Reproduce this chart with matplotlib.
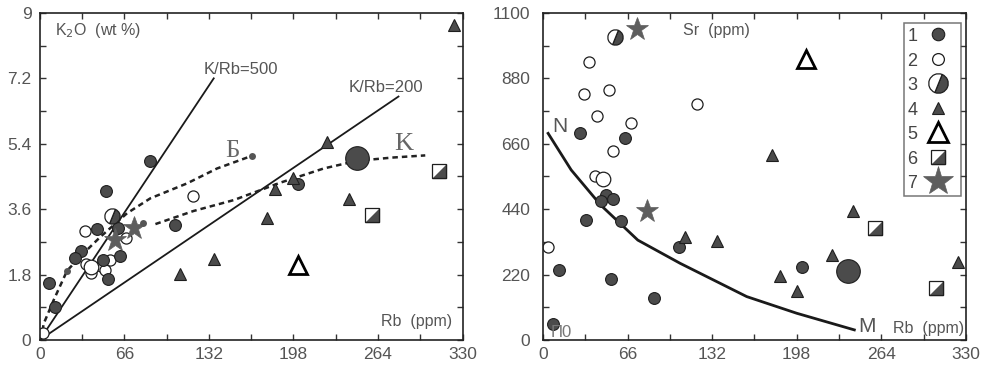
import matplotlib
matplotlib.use("Agg")
import matplotlib.pyplot as plt
from matplotlib.markers import MarkerStyle
from matplotlib.transforms import Affine2D
from matplotlib.lines import Line2D

plt.rcParams['font.family'] = ['Liberation Sans', 'DejaVu Sans']

# ---- left panel: Rb (ppm) vs K2O (wt %) ----
k1_rb = [86.4, 51.8, 44.8, 61.1, 32.5, 27.9, 63.0, 49.4, 53.3, 7.6, 12.2, 105.4, 201.6]
k1_k2o = [4.93, 4.10, 3.05, 3.07, 2.45, 2.25, 2.31, 2.20, 1.67, 1.56, 0.90, 3.16, 4.28]
k2_rb = [35.1, 67.4, 36.0, 48.0, 55.2, 40.0, 51.3, 2.4, 119.7]
k2_k2o = [3.01, 2.82, 2.10, 2.05, 2.20, 1.85, 1.93, 0.20, 3.96]
k2big_rb = [40.0]
k2big_k2o = [2.02]
k3_rb = [56.5]
k3_k2o = [3.41]
k4_rb = [109.8, 135.8, 177.4, 183.9, 197.7, 224.2, 241.0, 323.0]
k4_k2o = [1.82, 2.22, 3.35, 4.15, 4.45, 5.45, 3.88, 8.67]
k5_rb = [201.6]
k5_k2o = [2.06]
k6_rb = [259.3, 312.0]
k6_k2o = [3.44, 4.65]
k7_rb = [59.0, 73.3]
k7_k2o = [2.75, 3.07]
kbig_rb = [247.6]
kbig_k2o = [5.0]
kdot_rb = [21.4, 80.5, 165.7]
kdot_k2o = [1.90, 3.22, 5.07]

# reference lines K/Rb
kr500_rb = [0, 135.8]
kr500_k2o = [0, 7.2]
kr200_rb = [0, 280.0]
kr200_k2o = [0, 6.70]

# trend curves
b_rb = [1.0, 3.1, 10.9, 21.4, 34.3, 47.4, 68.2, 86.4, 115.0, 138.4, 165.7]
b_k2o = [0.0, 0.45, 1.10, 1.91, 2.39, 2.84, 3.49, 3.90, 4.31, 4.72, 5.07]
kk_rb = [90.3, 120.0, 151.4, 187.8, 221.6, 247.6, 275.0, 300.9]
kk_k2o = [3.19, 3.55, 3.85, 4.33, 4.72, 4.93, 5.02, 5.08]

# ---- right panel: Rb (ppm) vs Sr (ppm) ----
s1_rb = [28.6, 63.7, 49.4, 45.5, 54.4, 33.3, 61.1, 105.9, 12.5, 52.8, 86.6, 7.8, 201.8]
s1_sr = [697, 680, 488, 469, 473, 404, 401, 312, 235, 205, 140, 54, 247]
s2_rb = [35.6, 31.7, 51.5, 41.9, 68.6, 54.4, 40.3, 3.9, 120.4]
s2_sr = [934, 827, 841, 755, 729, 637, 552, 312, 794]
s2big_rb = [46.8]
s2big_sr = [541]
s3_rb = [56.4]
s3_sr = [1018]
s4_rb = [110.8, 136.0, 178.4, 242.1, 225.2, 184.9, 197.9, 324.0]
s4_sr = [347, 334, 622, 435, 286, 215, 166, 263]
s5_rb = [205.2]
s5_sr = [944]
s6_rb = [259.0, 307.1]
s6_sr = [376, 174]
s7_rb = [73.3, 81.1]
s7_sr = [1045, 435]
sbig_rb = [238.2]
sbig_sr = [233]
nm_rb = [4, 22, 45, 74, 107, 159, 198, 243]
nm_sr = [695, 572, 454, 336, 258, 146, 90, 34]

x_ticks = [0, 66, 132, 198, 264, 330]
k_ticks = [0, 1.8, 3.6, 5.4, 7.2, 9]
k_labels = ['0', '1.8', '3.6', '5.4', '7.2', '9']
sr_ticks = [0, 220, 440, 660, 880, 1100]
legend_labels = ['1', '2', '3', '4', '5', '6', '7']

DARK = '#4b4b4b'
EDGE = '#1e1e1e'
STAR = '#5e5e5e'
TXT = '#555555'

half_circle = MarkerStyle('o', fillstyle='right', transform=Affine2D().rotate_deg(-22))
tri_half = [(-1, -1), (1, -1), (1, 1)]

st = {
    1: dict(marker='o', ms=8.5, mfc=DARK, mec=EDGE, mew=0.8),
    2: dict(marker='o', ms=8, mfc='white', mec=EDGE, mew=0.9),
    3: dict(marker=half_circle, ms=11, mfc=DARK, mfcalt='white', mec=EDGE, mew=0.9),
    4: dict(marker='^', ms=8, mfc=DARK, mec=EDGE, mew=0.8),
    5: dict(marker='^', ms=13, mfc='white', mec='black', mew=2),
    7: dict(marker='*', ms=17, mfc=STAR, mec=STAR, mew=0.5),
}


def pts(ax, x, y, kind, **kw):
    s = dict(st[kind])
    s.update(kw)
    return ax.plot(x, y, ls='none', **s)[0]


def squares(ax, x, y, ms=9.5):
    a = ax.plot(x, y, ls='none', marker='s', ms=ms, mfc='white', mec=EDGE, mew=0.9)[0]
    b = ax.plot(x, y, ls='none', marker=tri_half, ms=ms, mfc=DARK, mec=EDGE, mew=0.9)[0]
    return a, b


def style_axes(ax, yticks, ylabels, ypad):
    ax.set_xlim(0, 330)
    ax.set_ylim(yticks[0], yticks[-1])
    ax.set_xticks(x_ticks)
    ax.set_xticks([t + 33 for t in x_ticks[:-1]], minor=True)
    ax.set_yticks(yticks)
    ax.set_yticklabels(ylabels)
    ax.set_yticks([(a + b) / 2 for a, b in zip(yticks[:-1], yticks[1:])], minor=True)
    ax.tick_params(which='both', direction='in', top=True, right=True, length=4.5,
                   width=1, color='#333333', labelcolor=TXT, labelsize=12.5)
    ax.tick_params(axis='x', pad=5)
    ax.tick_params(axis='y', pad=ypad)
    for sp in ax.spines.values():
        sp.set_linewidth(1.2)
        sp.set_color('#222222')


fig = plt.figure(figsize=(9.81, 3.65), dpi=100)
ax1 = fig.add_axes([0.0405, 0.0685, 0.431, 0.896])
ax2 = fig.add_axes([0.5535, 0.0685, 0.431, 0.896])

# left panel
ax1.plot(kr500_rb, kr500_k2o, color='#1a1a1a', lw=1.3)
ax1.plot(kr200_rb, kr200_k2o, color='#1a1a1a', lw=1.3)
ax1.plot(b_rb, b_k2o, color='#222222', lw=1.8, ls=(0, (2.2, 1.6)))
ax1.plot(kk_rb, kk_k2o, color='#222222', lw=1.8, ls=(0, (2.2, 1.6)))
pts(ax1, k2_rb, k2_k2o, 2)
pts(ax1, k2big_rb, k2big_k2o, 2, ms=10.5)
pts(ax1, k1_rb, k1_k2o, 1)
pts(ax1, k3_rb, k3_k2o, 3)
pts(ax1, k4_rb, k4_k2o, 4)
pts(ax1, k5_rb, k5_k2o, 5)
squares(ax1, k6_rb, k6_k2o)
pts(ax1, kbig_rb, kbig_k2o, 1, ms=17)
pts(ax1, k7_rb, k7_k2o, 7)
pts(ax1, kdot_rb, kdot_k2o, 1, ms=5, mew=0, mfc='#555555')
style_axes(ax1, k_ticks, k_labels, 6)
ax1.set_xticklabels([str(t) for t in x_ticks])

ax1.text(0.035, 0.945, 'K$_2$O  (wt %)', transform=ax1.transAxes, color=TXT,
         fontsize=11.5, ha='left', va='center')
ax1.text(0.975, 0.056, 'Rb  (ppm)', transform=ax1.transAxes, color=TXT,
         fontsize=11.5, ha='right', va='center')
ax1.text(157, 7.45, 'K/Rb=500', color=TXT, fontsize=12, ha='center', va='center')
ax1.text(270, 6.95, 'K/Rb=200', color=TXT, fontsize=12, ha='center', va='center')
ax1.text(150, 5.21, 'Б', color='#666666', fontsize=18, ha='center', va='center',
         family=['Liberation Serif', 'DejaVu Serif'])
ax1.text(284, 5.4, 'K', color='#666666', fontsize=19, ha='center', va='center',
         family=['Liberation Serif', 'DejaVu Serif'])

# right panel
ax2.plot(nm_rb, nm_sr, color='#1a1a1a', lw=2)
h1 = pts(ax2, s1_rb, s1_sr, 1)
h2 = pts(ax2, s2_rb, s2_sr, 2)
pts(ax2, s2big_rb, s2big_sr, 2, ms=10.5)
h3 = pts(ax2, s3_rb, s3_sr, 3)
h4 = pts(ax2, s4_rb, s4_sr, 4)
h5 = pts(ax2, s5_rb, s5_sr, 5)
h6 = squares(ax2, s6_rb, s6_sr)
pts(ax2, sbig_rb, sbig_sr, 1, ms=17)
h7 = pts(ax2, s7_rb, s7_sr, 7)
style_axes(ax2, sr_ticks, [str(t) for t in sr_ticks], 9)
ax2.set_xticklabels([str(t) for t in x_ticks])

ax2.text(0.33, 0.945, 'Sr  (ppm)', transform=ax2.transAxes, color=TXT,
         fontsize=11.5, ha='left', va='center')
ax2.text(0.995, 0.035, 'Rb  (ppm)', transform=ax2.transAxes, color=TXT,
         fontsize=11.5, ha='right', va='center')
ax2.text(13, 717, 'N', color=TXT, fontsize=15, ha='center', va='center')
ax2.text(253, 45, 'M', color=TXT, fontsize=15, ha='center', va='center')
ax2.text(14, 25, 'П0', color='#777777', fontsize=12, ha='center', va='center')

# legend with proxies sized like the original key
lh = [
    Line2D([], [], ls='none', **dict(st[1], ms=9)),
    Line2D([], [], ls='none', **dict(st[2], ms=8.5)),
    Line2D([], [], ls='none', **dict(st[3], ms=14)),
    Line2D([], [], ls='none', **dict(st[4], ms=9)),
    Line2D([], [], ls='none', **dict(st[5], ms=14)),
    (Line2D([], [], ls='none', marker='s', ms=9.5, mfc='white', mec=EDGE, mew=0.9),
     Line2D([], [], ls='none', marker=tri_half, ms=9.5, mfc=DARK, mec=EDGE, mew=0.9)),
    Line2D([], [], ls='none', **dict(st[7], ms=22)),
]
leg = ax2.legend(lh, legend_labels, loc='upper right', bbox_to_anchor=(0.988, 0.9685),
                 markerfirst=False, frameon=True, fancybox=False, fontsize=13,
                 handlelength=2.1, handletextpad=0.1, borderpad=0.2, labelspacing=0.33,
                 borderaxespad=0, handleheight=1.05)
leg.get_frame().set_edgecolor('#555555')
leg.get_frame().set_linewidth(1.1)
for t in leg.get_texts():
    t.set_color('#444444')

fig.savefig('out.png', dpi=100)
